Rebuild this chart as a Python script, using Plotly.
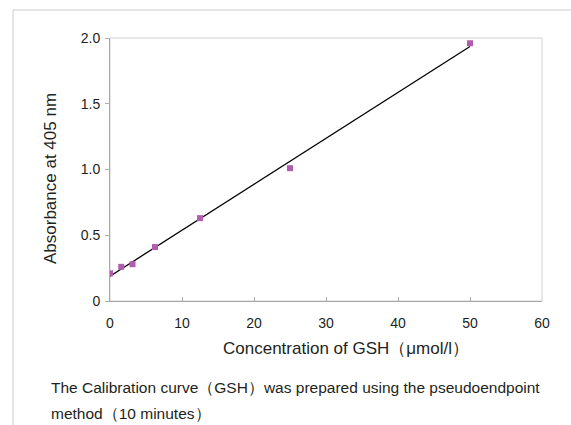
import numpy as np
import plotly.graph_objects as go

# Data
conc = [0, 1.5625, 3.125, 6.25, 12.5, 25, 50]
absorbance = [0.21, 0.26, 0.28, 0.41, 0.63, 1.01, 1.96]
x_ticks = [0, 10, 20, 30, 40, 50, 60]
y_ticks = [0, 0.5, 1.0, 1.5, 2.0]
y_ticktext = ["0", "0.5", "1.0", "1.5", "2.0"]

slope, intercept = np.polyfit(conc, absorbance, 1)
fit_x = [min(conc), max(conc)]
fit_y = [slope * v + intercept for v in fit_x]

W, H = 571, 425
L, R, T, B = 110, 29, 38, 124
pw, ph = W - L - R, H - T - B

def px(x):
    return (x - L) / pw

def py(y):
    return (H - B - y) / ph

TXT = "#231f20"
FONT = "Liberation Sans, Arial, sans-serif"

fig = go.Figure()
fig.add_trace(go.Scatter(x=fit_x, y=fit_y, mode="lines",
                         line=dict(color="#000000", width=1.3),
                         showlegend=False, hoverinfo="skip"))
fig.add_trace(go.Scatter(x=conc, y=absorbance, mode="markers",
                         marker=dict(symbol="square", size=6, color="#b15cae",
                                     line=dict(width=0)),
                         showlegend=False))

fig.update_layout(
    width=W, height=H,
    margin=dict(l=L, r=R, t=T, b=B),
    paper_bgcolor="white", plot_bgcolor="white",
    font=dict(family=FONT, color=TXT, size=14),
    xaxis=dict(range=[0, 60], tickvals=x_ticks, ticks="inside", ticklen=4,
               tickcolor="#b0b0b0", showline=True, linecolor="#a8a8a8",
               linewidth=1, showgrid=False, zeroline=False,
               tickfont=dict(size=14), ticklabelstandoff=9),
    yaxis=dict(range=[0, 2.0], tickvals=y_ticks, ticktext=y_ticktext,
               ticks="outside", ticklen=4, tickcolor="#b0b0b0",
               showline=True, linecolor="#a8a8a8", linewidth=1,
               showgrid=False, zeroline=False, tickfont=dict(size=14),
               ticklabelstandoff=2),
    shapes=[
        dict(type="rect", xref="paper", yref="paper", x0=0, x1=1, y0=0, y1=1,
             line=dict(color="#d0d0d0", width=1), layer="below"),
        dict(type="line", xref="paper", yref="paper",
             x0=px(13), x1=px(13), y0=py(10), y1=py(H + 5),
             line=dict(color="#cccccc", width=1)),
        dict(type="line", xref="paper", yref="paper",
             x0=px(13), x1=px(W + 5), y0=py(10), y1=py(10),
             line=dict(color="#cccccc", width=1)),
    ],
    annotations=[
        dict(text="Absorbance at 405 nm", xref="paper", yref="paper",
             x=px(50), y=py(179), textangle=-90, showarrow=False,
             font=dict(size=17, family=FONT, color=TXT),
             xanchor="center", yanchor="middle"),
        dict(text="Concentration of GSH（μmol/l）", xref="paper", yref="paper",
             x=px(346), y=py(348), showarrow=False,
             font=dict(size=17, family=FONT, color=TXT),
             xanchor="center", yanchor="middle"),
        dict(text="The Calibration curve（GSH）was prepared using the pseudoendpoint",
             xref="paper", yref="paper", x=px(49), y=py(387), showarrow=False,
             font=dict(size=15.5, family=FONT, color=TXT),
             xanchor="left", yanchor="middle"),
        dict(text="method（10 minutes）",
             xref="paper", yref="paper", x=px(49), y=py(413), showarrow=False,
             font=dict(size=15.5, family=FONT, color=TXT),
             xanchor="left", yanchor="middle"),
    ],
)

fig.write_html("out.html", config={"displayModeBar": False},
               post_script="document.body.style.margin='0';document.body.style.overflow='hidden';")
